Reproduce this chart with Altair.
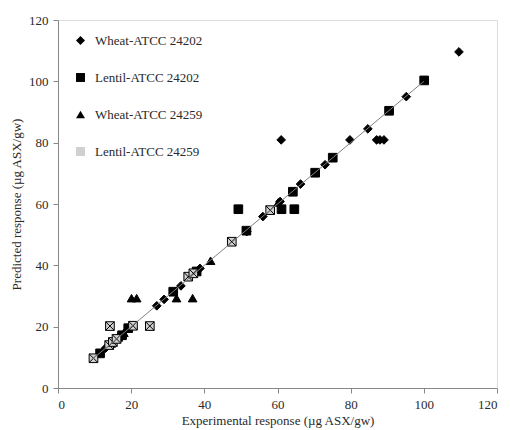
import altair as alt
import pandas as pd

series_names = ["Wheat-ATCC 24202", "Lentil-ATCC 24202", "Wheat-ATCC 24259", "Lentil-ATCC 24259"]

wheat_24202_x = [13, 15, 17, 27, 29, 33.6, 38.8, 51.6, 56, 60.7, 61, 66.3, 73, 79.8, 84.7, 87.1, 88, 89.1, 95.2, 109.6]
wheat_24202_y = [13, 15, 17, 26.8, 28.9, 33.3, 39, 51, 55.9, 60.8, 80.9, 66.5, 72.8, 80.9, 84.5, 80.9, 80.9, 80.9, 95, 109.6]

lentil_24202_x = [11.5, 17.5, 19.2, 31.5, 37.9, 49.3, 51.5, 61.1, 64.6, 64.2, 70.3, 75.1, 90.5, 100.1]
lentil_24202_y = [11.3, 17.2, 19.5, 31.4, 38, 58.3, 51.3, 58.3, 58.3, 64, 70.2, 75.1, 90.4, 100.3]

wheat_24259_x = [14.5, 16.5, 18, 20.1, 21.5, 32.4, 36.8, 41.7, 60.2]
wheat_24259_y = [14.5, 16.5, 18, 29.3, 29.3, 29.3, 29.3, 41.5, 60.5]

lentil_24259_x = [9.7, 14.2, 14, 15, 16, 20.5, 25.1, 35.6, 37, 47.5, 58]
lentil_24259_y = [9.7, 20.2, 14, 15, 16, 20.3, 20.2, 36.3, 37.4, 47.7, 58]

trend_x = [9.5, 100]
trend_y = [9.5, 100]

x_ticks = [0, 20, 40, 60, 80, 100, 120]
y_ticks = [0, 20, 40, 60, 80, 100, 120]

rows = []
for name, xs, ys in [
    (series_names[0], wheat_24202_x, wheat_24202_y),
    (series_names[1], lentil_24202_x, lentil_24202_y),
    (series_names[2], wheat_24259_x, wheat_24259_y),
    (series_names[3], lentil_24259_x, lentil_24259_y),
]:
    for xv, yv in zip(xs, ys):
        rows.append({"series": name, "x": xv, "y": yv})
df = pd.DataFrame(rows)
trend = pd.DataFrame({"x": trend_x, "y": trend_y})

FONT = "Liberation Serif"
crossed = "M-1,-1H1V1H-1Z M-1,-1L1,1 M1,-1L-1,1"

xscale = alt.Scale(domain=[0, 120], nice=False)
yscale = alt.Scale(domain=[0, 120], nice=False)

xaxis = alt.Axis(values=x_ticks, grid=False, title="Experimental response (\u00b5g ASX/gw)",
                 titleFont=FONT, titleFontSize=13, titleFontWeight="normal", titleColor="#2a2a2a",
                 labelFont=FONT, labelFontSize=13, labelColor="#2a2a2a",
                 domainColor="#888", tickColor="#888", tickSize=5, labelPadding=5, titlePadding=3)
yaxis = alt.Axis(values=y_ticks, grid=False, title="Predicted response (\u00b5g ASX/gw)",
                 titleFont=FONT, titleFontSize=13, titleFontWeight="normal", titleColor="#2a2a2a",
                 labelFont=FONT, labelFontSize=13, labelColor="#2a2a2a",
                 domainColor="#888", tickColor="#888", tickSize=5, labelPadding=5, titlePadding=5)

legend = alt.Legend(title=None, orient="none", legendX=16, legendY=14,
                    labelFont=FONT, labelFontSize=13, labelColor="#2a2a2a",
                    rowPadding=23, symbolStrokeColor="black", symbolStrokeWidth=1,
                    symbolSize=80, labelOffset=8)

points = alt.Chart(df).mark_point(filled=True, stroke="black", strokeWidth=1, size=75, opacity=1).encode(
    x=alt.X("x:Q", scale=xscale, axis=xaxis),
    y=alt.Y("y:Q", scale=yscale, axis=yaxis),
    shape=alt.Shape("series:N", scale=alt.Scale(domain=series_names,
                    range=["diamond", "square", "triangle-up", crossed]), legend=legend),
    fill=alt.Fill("series:N", scale=alt.Scale(domain=series_names,
                  range=["black", "black", "black", "#d0d0d0"]), legend=legend),
)

line = alt.Chart(trend).mark_line(color="#808080", strokeWidth=1).encode(
    x=alt.X("x:Q", scale=xscale),
    y=alt.Y("y:Q", scale=yscale),
)

chart = alt.layer(points, line).properties(
    width=439, height=368,
    autosize=alt.AutoSizeParams(type="none"),
    padding={"left": 50, "top": 12, "right": 5, "bottom": 40},
).configure_view(stroke=None).configure(background="white")

chart.save("out.html", embed_options={"renderer": "svg", "actions": False})
